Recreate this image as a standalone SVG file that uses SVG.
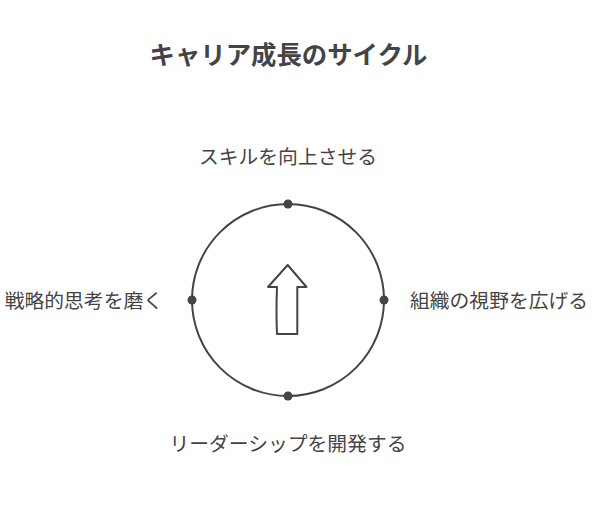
<svg xmlns="http://www.w3.org/2000/svg" width="600" height="516" viewBox="0 0 600 516">
<style>
text{font-family:"Noto Sans CJK JP","Noto Sans",sans-serif;fill:#444;}
.t{font-size:25.4px;font-weight:bold;}
.l{font-size:19.8px;}
.ring{fill:none;stroke:#444;stroke-width:2;}
.dot{fill:#444;}
.arrow{fill:#fff;stroke:#444;stroke-width:2;stroke-linejoin:round;}
</style>
<rect width="600" height="516" fill="#fff"/>
<text class="t" x="288.5" y="64" text-anchor="middle">キャリア成長のサイクル</text>
<g id="connectors">
<circle class="ring" cx="288" cy="300" r="96"/>
</g>
<g id="center-arrow">
<path class="arrow" d="M287.7 265 L306.5 287 L297.3 287 L297.3 334 L277 334 Q276 312 277 287 L268 287 Z"/>
</g>
<g id="node-top">
<circle class="dot" cx="288" cy="204" r="4.5"/>
<text class="l" x="288" y="164" text-anchor="middle">スキルを向上させる</text>
</g>
<g id="node-right">
<circle class="dot" cx="384" cy="300" r="4.5"/>
<text class="l" x="410" y="308">組織の視野を広げる</text>
</g>
<g id="node-bottom">
<circle class="dot" cx="288" cy="396" r="4.5"/>
<text class="l" x="288" y="451" text-anchor="middle">リーダーシップを開発する</text>
</g>
<g id="node-left">
<circle class="dot" cx="192" cy="300" r="4.5"/>
<text class="l" x="163" y="308" text-anchor="end">戦略的思考を磨く</text>
</g>
</svg>
